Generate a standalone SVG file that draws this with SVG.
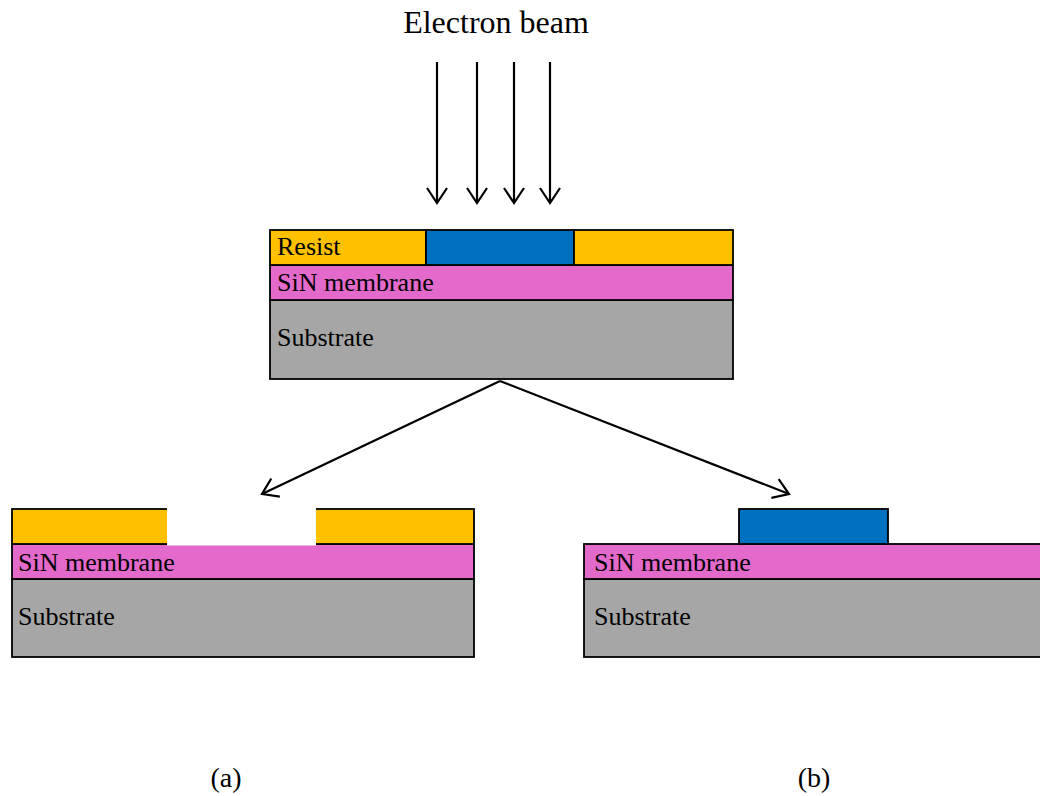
<svg xmlns="http://www.w3.org/2000/svg" width="1040" height="796" viewBox="0 0 1040 796">
  <style>
    .layer { stroke: #000; stroke-width: 1.8; }
    .resist { fill: #FFC000; }
    .exposed { fill: #0070C0; }
    .sin { fill: #E369CA; }
    .sub { fill: #A6A6A6; }
    .lbl { font-family: "Liberation Serif", "Times New Roman", serif; font-size: 26px; fill: #000; }
    .cap { font-family: "Liberation Serif", "Times New Roman", serif; font-size: 28px; fill: #000; }
    .title { font-family: "Liberation Serif", "Times New Roman", serif; font-size: 32px; fill: #000; }
    .arrow { stroke: #000; stroke-width: 2.2; fill: none; marker-end: url(#head); }
  </style>
  <defs>
    <marker id="head" markerUnits="userSpaceOnUse" markerWidth="40" markerHeight="40" viewBox="-20 -20 40 40" refX="0" refY="0" orient="auto" overflow="visible">
      <path d="M-15,-10 L0,0 L-15,10" fill="none" stroke="#000" stroke-width="2.2" stroke-linejoin="miter"/>
    </marker>
  </defs>
  <rect width="1040" height="796" fill="#fff"/>

  <text class="title" x="496" y="33" text-anchor="middle">Electron beam</text>

  <!-- exposure stack -->
  <g id="stack-exposed">
    <rect class="layer sub" x="270" y="300" width="463" height="79"/>
    <rect class="layer sin" x="270" y="265" width="463" height="35"/>
    <rect class="layer resist" x="270" y="230" width="156" height="35"/>
    <rect class="layer exposed" x="426" y="230" width="148" height="35"/>
    <rect class="layer resist" x="574" y="230" width="159" height="35"/>
    <text class="lbl" x="277" y="255">Resist</text>
    <text class="lbl" x="277" y="291">SiN membrane</text>
    <text class="lbl" x="277" y="346">Substrate</text>
  </g>

  <!-- (a) positive resist developed -->
  <g id="stack-a">
    <rect class="layer sub" x="12" y="579" width="462" height="78"/>
    <rect class="layer sin" x="12" y="544" width="462" height="35"/>
    <rect class="layer resist" x="12" y="509" width="462" height="35"/>
    <rect x="167" y="507" width="149" height="38.5" fill="#fff"/>
    <text class="lbl" x="18" y="571">SiN membrane</text>
    <text class="lbl" x="18" y="625">Substrate</text>
  </g>

  <!-- (b) negative resist developed -->
  <g id="stack-b">
    <rect class="layer sub" x="584" y="579" width="470" height="78"/>
    <rect class="layer sin" x="584" y="544" width="470" height="35"/>
    <rect class="layer exposed" x="739" y="509" width="149" height="35"/>
    <text class="lbl" x="594" y="571">SiN membrane</text>
    <text class="lbl" x="594" y="625">Substrate</text>
  </g>

  <text class="cap" x="226" y="787" text-anchor="middle">(a)</text>
  <text class="cap" x="814" y="787" text-anchor="middle">(b)</text>

  <g id="connectors">
    <line class="arrow" x1="437" y1="62" x2="437" y2="203"/>
    <line class="arrow" x1="477" y1="62" x2="477" y2="203"/>
    <line class="arrow" x1="514" y1="62" x2="514" y2="203"/>
    <line class="arrow" x1="550" y1="62" x2="550" y2="203"/>
    <line class="arrow" x1="500" y1="381" x2="262" y2="494"/>
    <line class="arrow" x1="500" y1="381" x2="789" y2="494"/>
  </g>
</svg>
